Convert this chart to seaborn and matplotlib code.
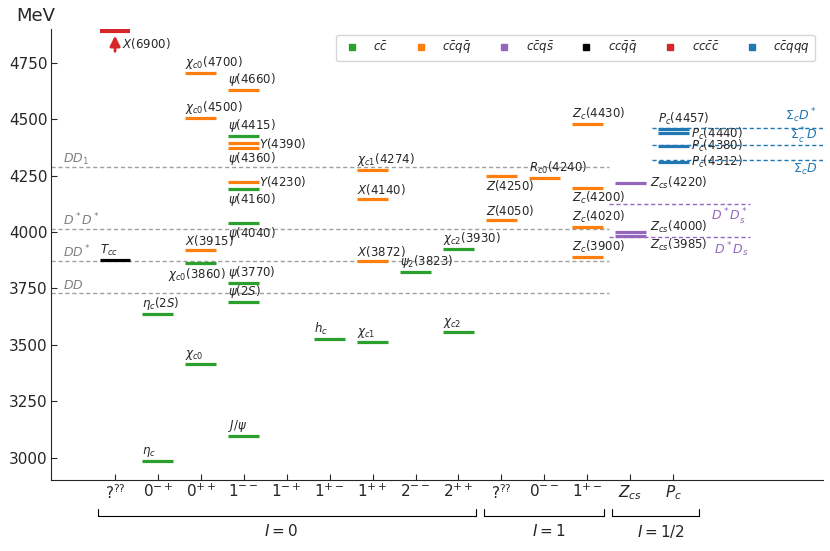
import numpy as np
import seaborn as sns
import matplotlib.pyplot as plt
from matplotlib.lines import Line2D

# x axis groups
columns = [r'$?^{??}$', r'$0^{-+}$', r'$0^{++}$', r'$1^{--}$', r'$1^{-+}$', r'$1^{+-}$',
           r'$1^{++}$', r'$2^{--}$', r'$2^{++}$', r'$?^{??}$', r'$0^{--}$', r'$1^{+-}$',
           r'$Z_{cs}$', r'$P_c$']

# states: label, column index, mass (MeV), quark content
names = [r'$X(6900)$', r'$T_{cc}$',
         r'$\eta_c$', r'$\eta_c(2S)$',
         r'$\chi_{c0}$', r'$\chi_{c0}(3860)$', r'$X(3915)$', r'$\chi_{c0}(4500)$', r'$\chi_{c0}(4700)$',
         r'$J/\psi$', r'$\psi(2S)$', r'$\psi(3770)$', r'$\psi(4040)$', r'$\psi(4160)$',
         r'$Y(4230)$', r'$\psi(4360)$', r'$Y(4390)$', r'$\psi(4415)$', r'$\psi(4660)$',
         r'$h_c$',
         r'$\chi_{c1}$', r'$X(3872)$', r'$X(4140)$', r'$\chi_{c1}(4274)$',
         r'$\psi_2(3823)$',
         r'$\chi_{c2}$', r'$\chi_{c2}(3930)$',
         r'$Z(4050)$', r'$Z(4250)$',
         r'$R_{c0}(4240)$',
         r'$Z_c(3900)$', r'$Z_c(4020)$', r'$Z_c(4200)$', r'$Z_c(4430)$',
         r'$Z_{cs}(3985)$', r'$Z_{cs}(4000)$', r'$Z_{cs}(4220)$',
         r'$P_c(4312)$', r'$P_c(4380)$', r'$P_c(4440)$', r'$P_c(4457)$']
cols = [0, 0,
        1, 1,
        2, 2, 2, 2, 2,
        3, 3, 3, 3, 3, 3, 3, 3, 3, 3,
        5,
        6, 6, 6, 6,
        7,
        8, 8,
        9, 9,
        10,
        11, 11, 11, 11,
        12, 12, 12,
        13, 13, 13, 13]
masses = [6900, 3875,
          2984, 3638,
          3415, 3862, 3918, 4505, 4704,
          3097, 3688, 3773, 4039, 4191, 4222, 4374, 4394, 4423, 4630,
          3525,
          3511, 3872, 4146, 4274,
          3823,
          3557, 3924,
          4051, 4248,
          4238,
          3887, 4022, 4196, 4479,
          3981, 4002, 4216,
          4312, 4380, 4440, 4457]
kinds = ['cccc', 'ccQQ',
         'cc', 'cc',
         'cc', 'cc', 'ccqq', 'ccqq', 'ccqq',
         'cc', 'cc', 'cc', 'cc', 'cc', 'ccqq', 'ccqq', 'ccqq', 'cc', 'ccqq',
         'cc',
         'cc', 'ccqq', 'ccqq', 'ccqq',
         'cc',
         'cc', 'cc',
         'ccqq', 'ccqq',
         'ccqq',
         'ccqq', 'ccqq', 'ccqq', 'ccqq',
         'ccqs', 'ccqs', 'ccqs',
         'ccqqq', 'ccqqq', 'ccqqq', 'ccqqq']

# thresholds
grey_thr_names = [r'$DD$', r'$DD^*$', r'$D^*D^*$', r'$DD_1$']
grey_thr = [3730, 3872, 4014, 4287]
purple_thr_names = [r'$D^*D_s$', r'$D^*D_s^*$']
purple_thr = [3976, 4122]
blue_thr_names = [r'$\Sigma_cD$', r'$\Sigma_c^*D$', r'$\Sigma_cD^*$']
blue_thr = [4321, 4385, 4462]

legend_kinds = ['cc', 'ccqq', 'ccqs', 'ccQQ', 'cccc', 'ccqqq']
legend_labels = [r'$c\bar{c}$', r'$c\bar{c}q\bar{q}$', r'$c\bar{c}q\bar{s}$',
                 r'$cc\bar{q}\bar{q}$', r'$cc\bar{c}\bar{c}$', r'$c\bar{c}qqq$']

# label placement (default: above, left aligned)
label_pos = {
    r'$\psi(4040)$': ('below', 0, 0), r'$\psi(4160)$': ('below', 0, 0),
    r'$\psi(4360)$': ('below', 0, 0), r'$Z(4250)$': ('below', 0, 0),
    r'$Z_c(4200)$': ('below', 0, 0),
    r'$Y(4230)$': ('right', 0, 0), r'$Y(4390)$': ('right', 0, 0),
    r'$Z_{cs}(4220)$': ('right', 3, 0), r'$Z_{cs}(4000)$': ('right', 3, 3),
    r'$Z_{cs}(3985)$': ('right', 3, -6),
    r'$P_c(4440)$': ('right', 2, -1), r'$P_c(4380)$': ('right', 2, 0),
    r'$P_c(4312)$': ('right', 2, 0),
    r'$\chi_{c0}(3860)$': ('center', -3, -2),
}

sns.set_style('ticks')
pal = sns.color_palette('tab10')
colors = {'cc': pal[2], 'ccqq': pal[1], 'ccqs': pal[4], 'ccQQ': 'black',
          'cccc': pal[3], 'ccqqq': pal[0]}

fig = plt.figure(figsize=(8.3, 5.51), dpi=100)
ax = fig.add_axes([0.061, 0.1283, 0.931, 0.8194])
ymin, ymax = 2900, 4900
ax.set_xlim(-1.5, 16.5)
ax.set_ylim(ymin, ymax)

hw = 0.36
fs = 8.5
for name, c, m, k in zip(names, cols, masses, kinds):
    col = colors[k]
    if m > ymax:
        # off-scale state drawn at the top with an arrow
        ytop = ymax - 10
        ax.hlines(ytop, c - hw, c + hw, colors=col, lw=3, zorder=3)
        ax.annotate('', xy=(c, ytop - 8), xytext=(c, 4788),
                    arrowprops=dict(arrowstyle='-|>,head_width=0.3,head_length=0.6',
                                    color=col, lw=2))
        ax.text(c + 0.16, 4837, name, fontsize=fs, ha='left', va='center')
        continue
    ax.hlines(m, c - hw, c + hw, colors=col, lw=2.3, zorder=3)
    where, dx, dy = label_pos.get(name, ('above', 0, 0))
    if where == 'above':
        ax.annotate(name, (c - hw, m), xytext=(dx, 1.5 + dy), textcoords='offset points',
                    fontsize=fs, ha='left', va='bottom')
    elif where == 'below':
        ax.annotate(name, (c - hw, m), xytext=(dx, -1.5 + dy), textcoords='offset points',
                    fontsize=fs, ha='left', va='top')
    elif where == 'right':
        ax.annotate(name, (c + hw, m), xytext=(dx, dy), textcoords='offset points',
                    fontsize=fs, ha='left', va='center')
    else:
        ax.annotate(name, (c, m), xytext=(dx, dy), textcoords='offset points',
                    fontsize=fs, ha='center', va='top')

# thresholds
for lab, m in zip(grey_thr_names, grey_thr):
    ax.hlines(m, -1.5, 11.5, colors='#a0a0a0', lw=1, linestyles=(0, (3, 2)))
    ax.annotate(lab, (-1.22, m), xytext=(0, 0.5), textcoords='offset points',
                fontsize=9, color='grey', ha='left', va='bottom')
for lab, m in zip(purple_thr_names, purple_thr):
    ax.hlines(m, 11.5, 14.8, colors=pal[4], lw=1, linestyles=(0, (3, 2)))
    ax.annotate(lab, (14.75, m), xytext=(0, -2), textcoords='offset points',
                fontsize=9, color=pal[4], ha='right', va='top')
for i, (lab, m) in enumerate(zip(blue_thr_names, blue_thr)):
    ax.hlines(m, 12.5, 16.5, colors=pal[0], lw=1, linestyles=(0, (3, 2)))
    if i == 0:
        ax.annotate(lab, (16.35, m), xytext=(0, -2), textcoords='offset points',
                    fontsize=9, color=pal[0], ha='right', va='top')
    elif i == 1:
        ax.annotate(lab, (16.35, m), xytext=(0, -1), textcoords='offset points',
                    fontsize=9, color=pal[0], ha='right', va='bottom')
    else:
        ax.annotate(lab, (16.35, m), xytext=(0, 2), textcoords='offset points',
                    fontsize=9, color=pal[0], ha='right', va='bottom')

# axes styling
ax.set_xticks(range(len(columns)))
ax.set_xticklabels(columns)
ax.set_yticks(np.arange(3000, 4751, 250))
ax.tick_params(direction='in', length=4, labelsize=11)
ax.tick_params(axis='x', pad=2)
ax.tick_params(axis='y', pad=2)
sns.despine(ax=ax)
fig.text(16 / 830, 1 - 21 / 551, 'MeV', fontsize=13, va='baseline', ha='left')

# isospin brackets
trans = ax.get_xaxis_transform()
groups = [(-0.4, 8.4, 3.87, r'$I=0$'), (8.59, 11.39, 10.1, r'$I=1$'),
          (11.58, 13.61, 12.72, r'$I=1/2$')]
for x0, x1, xt, lab in groups:
    ax.plot([x0, x0, x1, x1], [-0.064, -0.079, -0.079, -0.064], color='black',
            lw=0.8, transform=trans, clip_on=False)
    ax.text(xt, -0.113, lab, transform=trans, ha='center', va='center', fontsize=11)

# legend
handles = [Line2D([], [], marker='s', ls='', color=colors[k], markersize=5)
           for k in legend_kinds]
ax.legend(handles, legend_labels, ncol=6, loc='upper right', bbox_to_anchor=(0.989, 0.986),
          borderaxespad=0, fontsize=8.5, handlelength=1.9, handletextpad=0.88,
          columnspacing=1.8, borderpad=0.4)

fig.savefig('out.png', dpi=100)
